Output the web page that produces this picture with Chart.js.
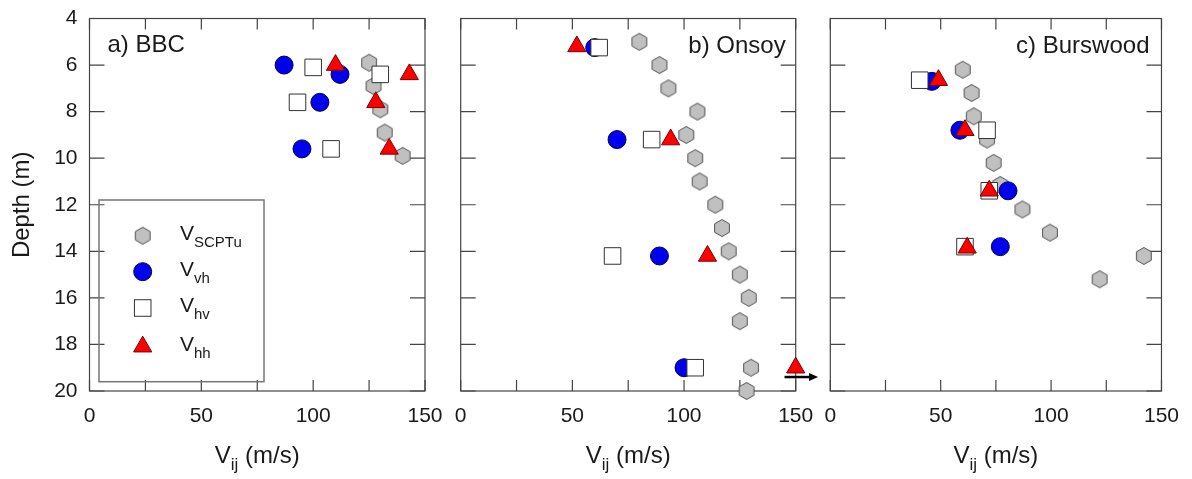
<!DOCTYPE html>
<html>
<head>
<meta charset="utf-8">
<script src="https://cdn.jsdelivr.net/npm/chart.js@4.4.1/dist/chart.umd.min.js"></script>
<style>
  html, body { margin: 0; padding: 0; background: #fff; }
  #wrap { position: relative; width: 1192px; height: 479px; }
  #wrap canvas { position: absolute; left: 0; top: 0; }
</style>
</head>
<body>
<div id="wrap">
  <canvas id="panelA" width="1192" height="479"></canvas>
  <canvas id="panelB" width="1192" height="479"></canvas>
  <canvas id="panelC" width="1192" height="479"></canvas>
</div>
<script>
const FONT = "'Liberation Sans', Arial, Helvetica, sans-serif";
Chart.defaults.font.family = FONT;
Chart.defaults.color = '#1a1a1a';

// a) BBC  (velocity m/s, depth m)
const bbcScptuV = [125, 127, 130, 132, 140];
const bbcScptuD = [5.9, 6.9, 7.9, 8.9, 9.9];
const bbcVhV = [87, 112, 103, 95];
const bbcVhD = [6.0, 6.4, 7.6, 9.6];
const bbcHvV = [100, 130, 93, 108];
const bbcHvD = [6.1, 6.4, 7.6, 9.6];
const bbcHhV = [110, 143, 128, 134];
const bbcHhD = [6.0, 6.4, 7.6, 9.6];

// b) Onsoy
const onsScptuV = [80, 89, 93, 106, 101, 105, 107, 114, 117, 120, 125, 129, 125, 130, 128];
const onsScptuD = [5.0, 6.0, 7.0, 8.0, 9.0, 10.0, 11.0, 12.0, 13.0, 14.0, 15.0, 16.0, 17.0, 19.0, 20.0];
const onsVhV = [60, 70, 89, 100];
const onsVhD = [5.25, 9.2, 14.2, 19.0];
const onsHvV = [62, 85.5, 68, 105];
const onsHvD = [5.25, 9.2, 14.2, 19.0];
const onsHhV = [52, 94, 110.5, 150];
const onsHhD = [5.2, 9.2, 14.2, 19.0];
// off-scale arrow (from velocity, to velocity, depth)
const onsArrow = [145, 160, 19.4];

// c) Burswood
const burScptuV = [60, 64, 65, 71, 74, 77, 87, 99.5, 142, 122];
const burScptuD = [6.2, 7.2, 8.2, 9.2, 10.2, 11.15, 12.2, 13.2, 14.2, 15.2];
const burVhV = [46, 58.7, 80.5, 77];
const burVhD = [6.7, 8.8, 11.4, 13.8];
const burHvV = [40.5, 71, 72, 61];
const burHvD = [6.65, 8.8, 11.4, 13.8];
const burHhV = [49, 61, 72, 62];
const burHhD = [6.65, 8.8, 11.4, 13.85];

const seriesNames = ['SCPTu', 'vh', 'hv', 'hh'];
const velTicks = { min: 0, max: 150, step: 25, labelEvery: 50 };
const depthTicks = { min: 4, max: 20, step: 2 };

function hexPath(g, x, y, r) {
  g.beginPath();
  for (let i = 0; i < 6; i++) {
    const a = Math.PI / 3 * i - Math.PI / 2;
    const px = x + r * Math.cos(a), py = y + r * Math.sin(a);
    if (i) g.lineTo(px, py); else g.moveTo(px, py);
  }
  g.closePath();
}

function hexImage() {
  const c = document.createElement('canvas');
  c.width = 20; c.height = 20;
  const g = c.getContext('2d');
  hexPath(g, 10, 10, 8.5);
  g.fillStyle = '#c0c0c0';
  g.fill();
  g.lineWidth = 1;
  g.strokeStyle = '#505050';
  g.stroke();
  return c;
}
const hexIcon = hexImage();

const markerStyles = [
  { pointStyle: hexIcon, radius: 9, bg: '#c0c0c0', border: '#505050', order: 3 },
  { pointStyle: 'circle', radius: 9, bg: '#0000ee', border: '#00004d', order: 2 },
  { pointStyle: 'rect', radius: 11.7, bg: '#ffffff', border: '#333333', order: 1 },
  { pointStyle: 'triangle', radius: 10.5, bg: '#ff0000', border: '#7a0000', order: 0 }
];

function toPoints(v, d) {
  return v.map((x, i) => ({ x: x, y: d[i] }));
}

function makeDatasets(groups) {
  return groups.map((g, k) => {
    const s = markerStyles[k];
    return {
      label: 'V' + seriesNames[k],
      data: toPoints(g[0], g[1]),
      pointStyle: s.pointStyle,
      pointRadius: s.radius,
      pointHoverRadius: s.radius,
      backgroundColor: s.bg,
      borderColor: s.border,
      pointBorderWidth: 1,
      order: s.order,
      clip: false
    };
  });
}

function panelScales(showY) {
  return {
    x: {
      type: 'linear', min: velTicks.min, max: velTicks.max,
      grid: { display: false, drawTicks: false },
      border: { display: false },
      ticks: {
        stepSize: velTicks.step, padding: 13, font: { size: 21 }, color: '#1a1a1a',
        callback: v => (v % velTicks.labelEvery === 0 ? String(v) : '')
      },
      afterFit: s => { s.height = 88; }
    },
    y: {
      type: 'linear', reverse: true, min: depthTicks.min, max: depthTicks.max,
      grid: { display: false, drawTicks: false },
      border: { display: false },
      ticks: { display: showY, stepSize: depthTicks.step, padding: 12, font: { size: 21 }, color: '#1a1a1a' },
      title: { display: showY, text: 'Depth (m)', font: { size: 24 }, color: '#1a1a1a', padding: { top: 8, bottom: 0 } },
      afterFit: s => {
        s.width = showY ? 89.5 : 0;
        s.paddingTop = 0;
        s.paddingBottom = 0;
      }
    }
  };
}

function drawVij(ctx, cx, base) {
  const big = '24px ' + FONT, small = '17px ' + FONT;
  ctx.font = big;
  const wV = ctx.measureText('V').width;
  const wR = ctx.measureText(' (m/s)').width;
  ctx.font = small;
  const wS = ctx.measureText('ij').width;
  let x = cx - (wV + wS + wR) / 2;
  ctx.fillStyle = '#1a1a1a';
  ctx.textAlign = 'left';
  ctx.textBaseline = 'alphabetic';
  ctx.font = big; ctx.fillText('V', x, base); x += wV;
  ctx.font = small; ctx.fillText('ij', x, base + 7); x += wS;
  ctx.font = big; ctx.fillText(' (m/s)', x, base);
}

function drawMarker(ctx, k, x, y) {
  const s = markerStyles[k];
  ctx.save();
  ctx.lineWidth = 1;
  ctx.fillStyle = s.bg;
  ctx.strokeStyle = s.border;
  if (k === 0) {
    ctx.drawImage(hexIcon, x - 10, y - 10);
  } else if (k === 1) {
    ctx.beginPath(); ctx.arc(x, y, s.radius, 0, Math.PI * 2);
    ctx.fill(); ctx.stroke();
  } else if (k === 2) {
    const h = s.radius * Math.SQRT1_2;
    ctx.fillRect(x - h, y - h, 2 * h, 2 * h);
    ctx.strokeRect(x - h, y - h, 2 * h, 2 * h);
  } else {
    const r = s.radius;
    ctx.beginPath();
    ctx.moveTo(x, y - r);
    ctx.lineTo(x + r * 0.866, y + r / 2);
    ctx.lineTo(x - r * 0.866, y + r / 2);
    ctx.closePath(); ctx.fill(); ctx.stroke();
  }
  ctx.restore();
}

function drawLegend(ctx) {
  ctx.save();
  ctx.strokeStyle = '#777';
  ctx.lineWidth = 1.5;
  ctx.strokeRect(99, 200, 165, 181.7);
  const rows = [235.7, 271.7, 308, 346.7];
  rows.forEach((ry, k) => {
    drawMarker(ctx, k, 142.7, ry);
    ctx.fillStyle = '#1a1a1a';
    ctx.textAlign = 'left';
    ctx.textBaseline = 'alphabetic';
    ctx.font = '21px ' + FONT;
    ctx.fillText('V', 180, ry + 4);
    const w = ctx.measureText('V').width;
    ctx.font = '15px ' + FONT;
    ctx.fillText(seriesNames[k], 180 + w, ry + 11);
  });
  ctx.restore();
}

const decoPlugin = {
  id: 'deco',
  beforeDatasetsDraw(chart) {
    const { ctx, chartArea: a, scales: { x, y } } = chart;
    ctx.save();
    ctx.strokeStyle = '#444';
    ctx.lineWidth = 1.2;
    ctx.strokeRect(a.left, a.top, a.right - a.left, a.bottom - a.top);
    ctx.beginPath();
    x.ticks.forEach(t => {
      const px = x.getPixelForValue(t.value);
      ctx.moveTo(px, a.bottom); ctx.lineTo(px, a.bottom - 11);
      ctx.moveTo(px, a.top); ctx.lineTo(px, a.top + 11);
    });
    y.ticks.forEach(t => {
      const py = y.getPixelForValue(t.value);
      ctx.moveTo(a.left, py); ctx.lineTo(a.left + 15, py);
      ctx.moveTo(a.right, py); ctx.lineTo(a.right - 15, py);
    });
    ctx.stroke();
    ctx.restore();
  },
  afterDatasetsDraw(chart, args, opts) {
    const { ctx, chartArea: a, scales: { x, y } } = chart;
    ctx.save();
    // panel label
    ctx.fillStyle = '#1a1a1a';
    ctx.font = '24px ' + FONT;
    ctx.textBaseline = 'alphabetic';
    if (opts.align === 'left') {
      ctx.textAlign = 'left';
      ctx.fillText(opts.label, a.left + 18, a.top + 33);
    } else {
      ctx.textAlign = 'right';
      ctx.fillText(opts.label, a.right - opts.inset, a.top + 34);
    }
    drawVij(ctx, (a.left + a.right) / 2, 463);
    if (opts.legend) drawLegend(ctx);
    if (opts.arrow) {
      const y0 = y.getPixelForValue(opts.arrow[2]);
      const x0 = x.getPixelForValue(opts.arrow[0]);
      const x1 = x.getPixelForValue(opts.arrow[1]);
      ctx.strokeStyle = '#000';
      ctx.fillStyle = '#000';
      ctx.lineWidth = 2.5;
      ctx.beginPath(); ctx.moveTo(x0, y0); ctx.lineTo(x1 - 7, y0); ctx.stroke();
      ctx.beginPath();
      ctx.moveTo(x1, y0); ctx.lineTo(x1 - 9, y0 - 4); ctx.lineTo(x1 - 9, y0 + 4);
      ctx.closePath(); ctx.fill();
    }
    ctx.restore();
  }
};

function makePanel(id, groups, padLeft, padRight, showY, deco) {
  return new Chart(document.getElementById(id), {
    type: 'scatter',
    data: { datasets: makeDatasets(groups) },
    options: {
      responsive: false,
      animation: false,
      events: [],
      layout: { padding: { left: padLeft, right: padRight, top: 18.5, bottom: 0 } },
      scales: panelScales(showY),
      plugins: { legend: { display: false }, tooltip: { enabled: false }, deco: deco }
    },
    plugins: [decoPlugin]
  });
}

makePanel('panelA',
  [[bbcScptuV, bbcScptuD], [bbcVhV, bbcVhD], [bbcHvV, bbcHvD], [bbcHhV, bbcHhD]],
  0, 767, true, { label: 'a) BBC', align: 'left', legend: true });

makePanel('panelB',
  [[onsScptuV, onsScptuD], [onsVhV, onsVhD], [onsHvV, onsHvD], [onsHhV, onsHhD]],
  460.7, 396.3, false, { label: 'b) Onsoy', align: 'right', inset: 10, arrow: onsArrow });

makePanel('panelC',
  [[burScptuV, burScptuD], [burVhV, burVhD], [burHvV, burHvD], [burHhV, burHhD]],
  830.3, 26.7, false, { label: 'c) Burswood', align: 'right', inset: 12 });
</script>
</body>
</html>
